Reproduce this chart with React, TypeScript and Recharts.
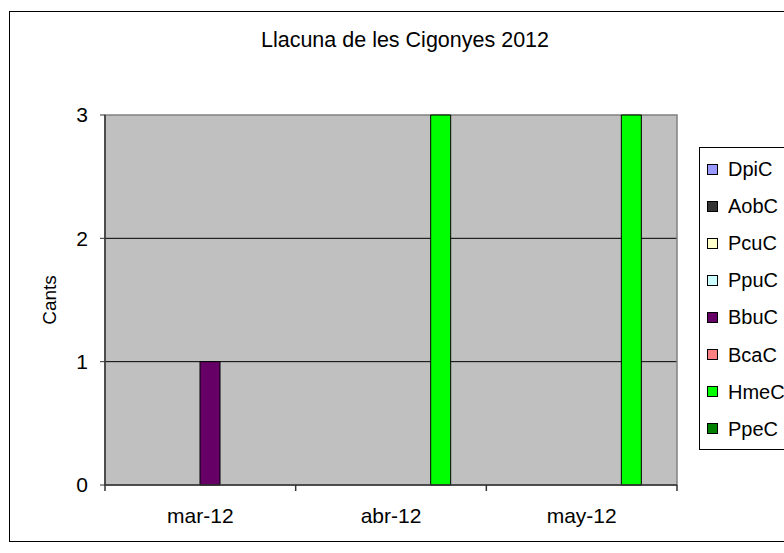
import React from 'react';
import { BarChart, Bar, XAxis, YAxis, CartesianGrid, Legend, ReferenceArea, Label } from 'recharts';

const months = ['mar-12', 'abr-12', 'may-12'];
const seriesNames = ['DpiC', 'AobC', 'PcuC', 'PpuC', 'BbuC', 'BcaC', 'HmeC', 'PpeC'];
const seriesColors = ['#9999FF', '#333333', '#FFFFCC', '#CCFFFF', '#660066', '#FF8080', '#00FF00', '#008000'];
const DpiC = [0, 0, 0];
const AobC = [0, 0, 0];
const PcuC = [0, 0, 0];
const PpuC = [0, 0, 0];
const BbuC = [1, 0, 0];
const BcaC = [0, 0, 0];
const HmeC = [0, 3, 3];
const PpeC = [0, 0, 0];
const yTicks = [0, 1, 2, 3];
const gridValues = [1, 2];
const title = 'Llacuna de les Cigonyes 2012';
const yTitle = 'Cants';

const seriesValues = [DpiC, AobC, PcuC, PpuC, BbuC, BcaC, HmeC, PpeC];
const data = months.map((m, i) => {
  const row: any = { month: m };
  seriesNames.forEach((s, k) => { row[s] = seriesValues[k][i]; });
  return row;
});

const FONT = '"Liberation Sans", Arial, sans-serif';

const XTick = (props: any) => {
  const { x, y, payload, index, visibleTicksCount, width } = props;
  const half = payload && typeof payload.offset === 'number' && payload.offset > 0
    ? payload.offset
    : width / visibleTicksCount / 2;
  const last = index === visibleTicksCount - 1;
  return (
    <g>
      <line x1={x - half} x2={x - half} y1={y - 23} y2={y - 17} stroke="#333" strokeWidth={1.5} />
      {last && <line x1={x + half} x2={x + half} y1={y - 23} y2={y - 17} stroke="#333" strokeWidth={1.5} />}
      <text x={x} y={y} dy="0.72em" textAnchor="middle" fontSize={21} fontFamily={FONT} fill="#000">
        {payload.value}
      </text>
    </g>
  );
};

const LegendBox = (props: any) => {
  const payload = [...(props.payload || [])].sort(
    (a: any, b: any) => seriesNames.indexOf(a.value) - seriesNames.indexOf(b.value)
  );
  return (
    <div style={{ position: 'absolute', left: 0, top: 0, width: 110, height: 303, border: '1px solid #000', background: '#fff', boxSizing: 'border-box', fontFamily: FONT }}>
      {payload.map((p: any, i: number) => (
        <div key={p.value} style={{ position: 'absolute', left: 7, top: 21 + i * 37.1 - 12, height: 24, display: 'flex', alignItems: 'center', whiteSpace: 'nowrap' }}>
          <span style={{ display: 'inline-block', width: 9, height: 9, border: '1px solid #000', background: p.color, marginRight: 10 }} />
          <span style={{ fontSize: 20, color: '#000', lineHeight: '24px' }}>{p.value}</span>
        </div>
      ))}
    </div>
  );
};

export default function App() {
  return (
    <div style={{ position: 'absolute', left: 0, top: 0, width: 784, height: 553, overflow: 'hidden', background: '#fff' }}>
      <div style={{ position: 'absolute', left: 9, top: 11, width: 820, height: 531, border: '1px solid #000', boxSizing: 'border-box' }} />
      <div style={{ position: 'absolute', left: 0, top: 0 }}>
        <BarChart
          width={784}
          height={553}
          data={data}
          margin={{ top: 115, right: 107, bottom: 28, left: 0 }}
          barCategoryGap="7.87%"
          barGap={0}
        >
          <CartesianGrid horizontal vertical={false} horizontalValues={gridValues} stroke="#000" strokeDasharray="" fill="#C0C0C0" fillOpacity={1} />
          <ReferenceArea y1={0} y2={3} fill="none" stroke="#808080" strokeWidth={1.5} ifOverflow="visible" />
          <XAxis
            dataKey="month"
            height={40}
            tickSize={6}
            tickMargin={17}
            tickLine={false}
            axisLine={{ stroke: '#333', strokeWidth: 1.5 }}
            tick={<XTick />}
            interval={0}
          />
          <YAxis
            width={105}
            domain={[0, 3]}
            ticks={yTicks}
            tickSize={5}
            tickMargin={12}
            axisLine={{ stroke: '#333', strokeWidth: 1.5 }}
            tickLine={{ stroke: '#333' }}
            tick={{ fontSize: 21, fontFamily: FONT, fill: '#000' }}
            allowDecimals={false}
          >
            <Label
              content={(p: any) => {
                const vb = p.viewBox || { x: 0, y: 115, width: 105, height: 370 };
                const cx = vb.x + 49;
                const cy = vb.y + vb.height / 2;
                return (
                  <text x={cx} y={cy} transform={`rotate(-90 ${cx} ${cy})`} textAnchor="middle" dominantBaseline="central" fontSize={19} fontFamily={FONT} fill="#000">
                    {yTitle}
                  </text>
                );
              }}
            />
          </YAxis>
          {seriesNames.map((s, k) => (
            <Bar key={s} dataKey={s} name={s} fill={seriesColors[k]} stroke="#000" strokeWidth={1} isAnimationActive={false} />
          ))}
          <Legend
            layout="vertical"
            align="right"
            verticalAlign="middle"
            itemSorter={null as any}
            wrapperStyle={{ left: 699, top: 147, width: 0, height: 0, right: 'auto', bottom: 'auto' }}
            content={<LegendBox />}
          />
          <text x={405} y={47} textAnchor="middle" fontSize={21.5} fontFamily={FONT} fill="#000">{title}</text>
        </BarChart>
      </div>
    </div>
  );
}
